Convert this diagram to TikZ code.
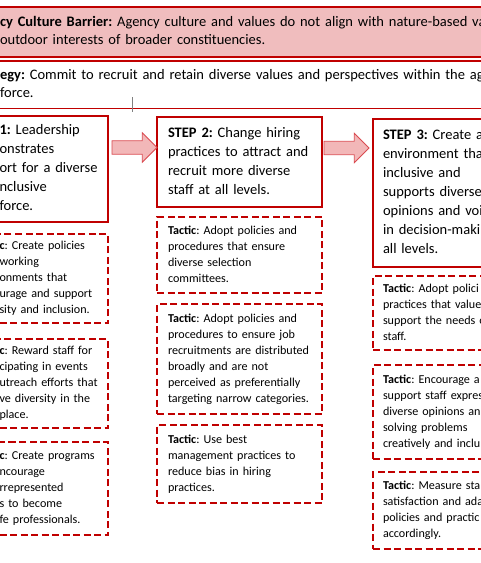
\documentclass[tikz,border=0pt]{standalone}
\usepackage{fontspec}
\setmainfont{Carlito}
\usepackage{tikz}
\usetikzlibrary{shapes, arrows, calc, arrows.meta, positioning}
\definecolor{darkred}{HTML}{C00000}
\definecolor{barpink}{HTML}{F0BDBE}
\definecolor{arrowpink}{HTML}{F2B7B8}
\definecolor{arrowedge}{HTML}{DA4A50}
\hyphenpenalty=10000
\exhyphenpenalty=10000
\tikzset{
    x=1pt, y=1pt,% one unit is one pixel of the page
    every node/.style={outer sep=0pt, inner ysep=0pt, align=left, anchor=north west},
    stepbox/.style={draw=darkred, line width=2.2pt, font=\fontsize{14.5}{19}\selectfont,
                    execute at begin node=\strut, execute at end node=\strut},
    tactic/.style={draw=darkred, line width=2.4pt, dash pattern=on 7pt off 3.5pt,% dashed tactic box
                   font=\fontsize{12.1}{16}\selectfont,
                   execute at begin node=\strut, execute at end node=\strut},
    leftcol/.style={text width=111pt, inner xsep=4pt,% cut at the left edge
                    execute at begin node={\strut\leftskip=6.5pt\relax}},
    midcol/.style={text width=143pt, inner xsep=11pt},
    rightcol/.style={text width=152pt, inner xsep=10pt},
    banner/.style={draw=darkred, line width=2pt, text width=510pt, inner xsep=10pt,% full width bars on top
                   font=\fontsize{14.5}{18}\selectfont,
                   execute at begin node=\strut, execute at end node=\strut},
    blockarrow/.style={single arrow, draw=arrowedge, fill=arrowpink, line width=0.8pt,
                       minimum height=45pt, minimum width=28pt, single arrow head extend=8pt,
                       inner xsep=0pt, inner ysep=6.3pt, anchor=tail}
}
\begin{document}
\frenchspacing
\begin{tikzpicture}
  \path[use as bounding box, fill=white] (0,0) rectangle (480,-563);
  % barrier and strategy
  \node[banner, fill=barpink, minimum height=50pt] (barrier) at (-10,-7)
    {\textbf{cy Culture Barrier:} Agency culture and values do not align with nature-based val\\outdoor interests of broader constituencies.};
  \node[banner, line width=1.6pt, minimum height=47.5pt, below=4pt of barrier.south west, anchor=north west] (strategy)
    {\textbf{egy:} Commit to recruit and retain diverse values and perspectives within the age\\force.};
  \draw[gray, line width=0.8pt] (132,-97) -- (132,-111.5);
  % steps
  \node[stepbox, midcol, minimum height=90pt] (s2) at (157,-117)
    {\textbf{STEP 2:} Change hiring\\practices to attract and\\recruit more diverse\\staff at all levels.};
  \node[stepbox, leftcol, minimum height=106pt, left=49pt of s2.north west, anchor=north east, yshift=1pt] (s1)
    {\textbf{1:} Leadership\\onstrates\\ort for a diverse\\nclusive\\force.};
  \node[stepbox, rightcol, minimum height=148pt, right=51pt of s2.north east, anchor=north west, yshift=-2pt] (s3)
    {\textbf{STEP 3:} Create a\\environment tha\\inclusive and\\supports diverse\\opinions and voi\\in decision-maki\\all levels.};
  \node[blockarrow, right=4pt of s1.north east, yshift=-31.5pt] (a1) {};
  \node[blockarrow, right=2pt of s2.north east, yshift=-31pt] (a2) {};
  % tactics of step 1
  \node[tactic, leftcol, minimum height=89pt, below=12pt of s1.south east, anchor=north east] (t11)
    {\textbf{c}: Create policies\\working\\onments that\\urage and support\\sity and inclusion.};
  \node[tactic, leftcol, minimum height=89pt, below=16pt of t11.south east, anchor=north east] (t12)
    {\textbf{c}: Reward staff for\\cipating in events\\utreach efforts that\\ve diversity in the\\place.};
  \node[tactic, leftcol, minimum height=93pt, below=14pt of t12.south east, anchor=north east] (t13)
    {\textbf{c}: Create programs\\ncourage\\rrepresented\\s to become\\fe professionals.};
  % tactics of step 2
  \node[tactic, midcol, minimum height=76pt, below=10pt of s2.south west, anchor=north west] (t21)
    {\textbf{Tactic}: Adopt policies and\\procedures that ensure\\diverse selection\\committees.};
  \node[tactic, midcol, minimum height=110pt, below=11pt of t21.south west, anchor=north west] (t22)
    {\textbf{Tactic}: Adopt policies and\\procedures to ensure job\\recruitments are distributed\\broadly and are not\\perceived as preferentially\\targeting narrow categories.};
  \node[tactic, midcol, minimum height=78pt, below=11pt of t22.south west, anchor=north west] (t23)
    {\textbf{Tactic}: Use best\\management practices to\\reduce bias in hiring\\practices.};
  % tactics of step 3
  \node[tactic, rightcol, minimum height=74pt, below=9pt of s3.south west, anchor=north west] (t31)
    {\textbf{Tactic}: Adopt polici\\practices that value\\support the needs o\\staff.};
  \node[tactic, rightcol, minimum height=94pt, below=15pt of t31.south west, anchor=north west] (t32)
    {\textbf{Tactic}: Encourage a\\support staff expres\\diverse opinions an\\solving problems\\creatively and inclu};
  \node[tactic, rightcol, minimum height=77pt, below=13pt of t32.south west, anchor=north west] (t33)
    {\textbf{Tactic}: Measure sta\\satisfaction and ada\\policies and practic\\accordingly.};
\end{tikzpicture}
\end{document}
